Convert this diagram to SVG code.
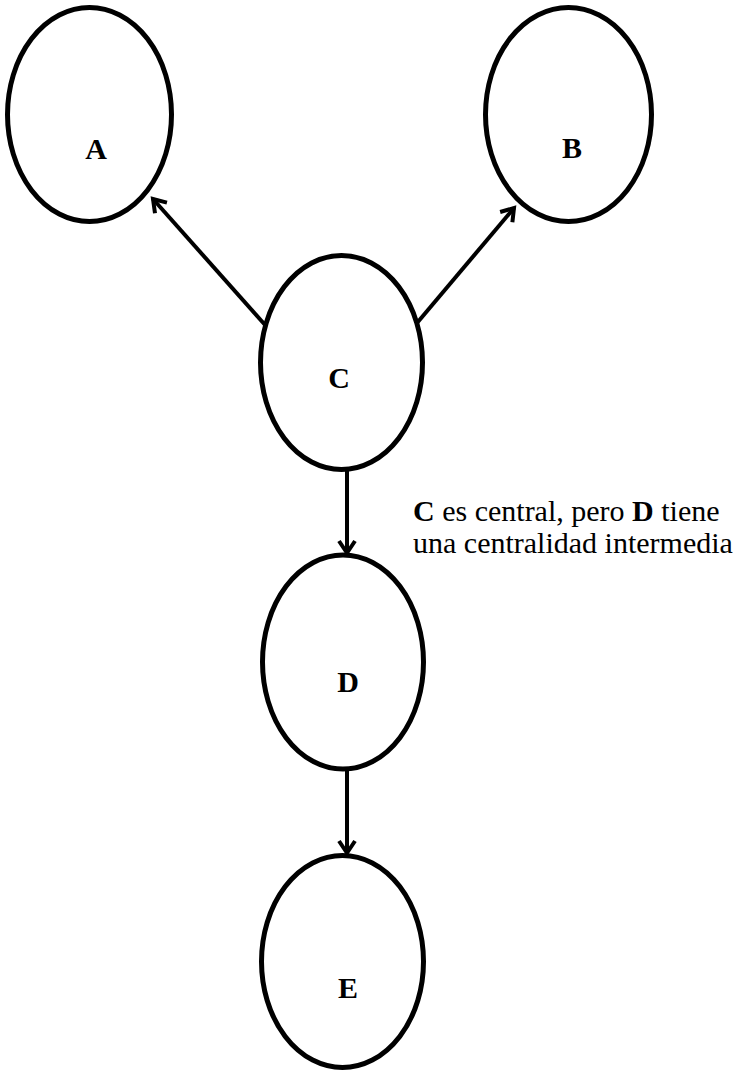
<svg xmlns="http://www.w3.org/2000/svg" width="750" height="1072" viewBox="0 0 750 1072">
<style>
.node{fill:none;stroke:#000;stroke-width:5}
.lbl{font-family:"Liberation Serif","Times New Roman",Times,"DejaVu Serif",serif;font-weight:bold;font-size:30px;text-anchor:middle;fill:#000}
.edge{fill:none;stroke:#000;stroke-width:4}
.note{font-family:"Liberation Serif","Times New Roman",Times,"DejaVu Serif",serif;font-weight:normal;font-size:30px;fill:#000}
</style>
<defs>
<marker id="arr" markerUnits="userSpaceOnUse" markerWidth="30" markerHeight="30" viewBox="-15 -15 30 30" refX="0" refY="0" orient="auto">
<path d="M-12,-8 L0,0 L-12,8" fill="none" stroke="#000" stroke-width="4"/>
</marker>
</defs>
<rect width="750" height="1072" fill="#fff"/>
<g id="edges">
<line class="edge" x1="266" y1="326" x2="153" y2="199" marker-end="url(#arr)"/>
<line class="edge" x1="417" y1="323" x2="514" y2="208" marker-end="url(#arr)"/>
<line class="edge" x1="347" y1="470" x2="347" y2="553" marker-end="url(#arr)"/>
<line class="edge" x1="347" y1="769" x2="347" y2="853" marker-end="url(#arr)"/>
</g>
<g id="nodeA"><ellipse class="node" cx="89.5" cy="114.5" rx="82" ry="107"/><text class="lbl" x="96" y="159">A</text></g>
<g id="nodeB"><ellipse class="node" cx="568.5" cy="114.5" rx="83" ry="107"/><text class="lbl" x="572" y="158">B</text></g>
<g id="nodeC"><ellipse class="node" cx="341.5" cy="362.5" rx="81" ry="107"/><text class="lbl" x="339" y="388">C</text></g>
<g id="nodeD"><ellipse class="node" cx="343" cy="662" rx="80.5" ry="107"/><text class="lbl" x="348" y="692">D</text></g>
<g id="nodeE"><ellipse class="node" cx="342.5" cy="961.5" rx="81" ry="106"/><text class="lbl" x="348" y="998">E</text></g>
<g id="note">
<text class="note" x="413" y="521"><tspan font-weight="bold">C</tspan> es central, pero <tspan font-weight="bold">D</tspan> tiene</text>
<text class="note" x="413" y="553">una centralidad intermedia</text>
</g>
</svg>
